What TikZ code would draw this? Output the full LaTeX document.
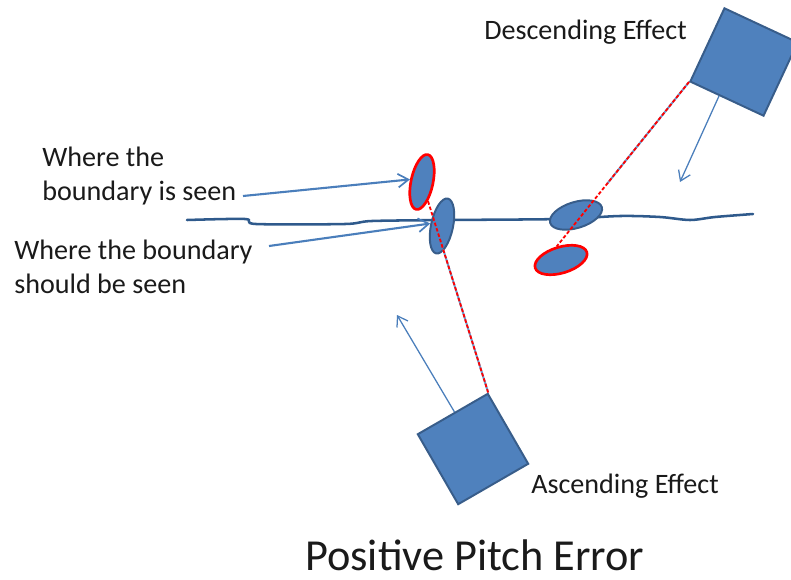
\documentclass[tikz,border=0pt]{standalone}
\usepackage{fontspec}
\setmainfont{Carlito}
\usepackage{tikz}
\usetikzlibrary{positioning, shapes.geometric, calc, arrows.meta}
\definecolor{SpotFill}{HTML}{4F81BD}
\definecolor{SpotEdge}{HTML}{385D8A}
\definecolor{PointerBlue}{HTML}{4A7EBB}
\definecolor{LineBlue}{HTML}{2F5A8C}
\definecolor{TextDark}{HTML}{1A1A1A}

\tikzset{
  spot/.style={ellipse, draw=SpotEdge, fill=SpotFill, line width=1.4pt, inner sep=0pt},
  redspot/.style={spot, draw=red, line width=1.9pt},
  sensor/.style={rectangle, draw=SpotEdge, fill=SpotFill, line width=1.4pt,
    minimum size=2.02cm, inner sep=0pt},
  pointer/.style={draw=PointerBlue, line width=1.5pt,
    -{Straight Barb[length=2.6mm, width=3.4mm, line width=1.2pt]}},
  motion/.style={draw=PointerBlue, line width=0.9pt,
    -{Straight Barb[length=2.4mm, width=3.2mm, line width=0.9pt]}},
  beam/.style={draw=red, line width=1.3pt, dash pattern=on 2.5pt off 1.5pt},
  echo/.style={draw=PointerBlue!80, line width=1.4pt},
  label/.style={anchor=base west, inner sep=0pt, text=TextDark,
    font=\fontsize{20}{23.5}\selectfont, align=left},
}

\begin{document}
\begin{tikzpicture}[x=0.025cm, y=-0.025cm]
\useasboundingbox (0,0) rectangle (791,580);

% the boundary as it runs across the floor
\draw[LineBlue, line width=1.8pt, line cap=round] plot[smooth, tension=0.5] coordinates {
  (187,220) (245,219) (256,224) (345,224) (372,221) (450,220) (560,219)
  (620,216) (660,217) (690,220) (715,217) (753,214)};

% sensors
\node[sensor, rotate=30] (asc) at (473,449) {};
\node[sensor, rotate=-25] (desc) at (744,62) {};

% spots where the boundary should be / is seen
\node[spot, minimum width=0.55cm, minimum height=1.4cm, rotate=-12] (should) at (442,226) {};
\node[redspot, minimum width=0.55cm, minimum height=1.4cm, rotate=-12] (seen) at (422,182) {};
\node[spot, minimum width=1.35cm, minimum height=0.65cm, rotate=17] (online) at (576,215) {};
\node[redspot, minimum width=1.35cm, minimum height=0.65cm, rotate=17] (offline) at (561,260) {};

% lines of sight
\draw[echo] (asc.north east) -- ($(asc.north east)!0.68!(seen)$);
\draw[beam] (asc.north east) -- (seen);
\draw[echo] (desc.south west) -- ($(desc.south west)!0.62!(offline.north)$);
\draw[beam] (desc.south west) -- (offline.north);

% direction of travel
\coordinate (ascend) at (397,315);
\coordinate (descend) at (680,182);
\draw[motion] ($(asc.north west)!0.53!(asc.north east)$) -- (ascend);
\draw[motion] ($(desc.south west)!0.4!(desc.south east)$) -- (descend);

% labels (base is the last line)
\node[label] (seentxt) at (42,200) {Where the\\boundary is seen};
\node[label] (shouldtxt) at (14,293) {Where the boundary\\should be seen};
\node[label] (desctxt) at (484,39) {Descending Effect};
\node[label] (asctxt) at (531,493) {Ascending Effect};
\node[anchor=base west, inner sep=0pt, text=TextDark,
      font=\fontsize{31.5}{36}\selectfont] (title) at (305,570) {Positive Pitch Error};

\coordinate (seentail) at (243,196);
\coordinate (shouldtail) at (269,246);
\draw[pointer] (seentail) -- (seen.west);
\draw[pointer] (shouldtail) -- (should.west);
\end{tikzpicture}
\end{document}
